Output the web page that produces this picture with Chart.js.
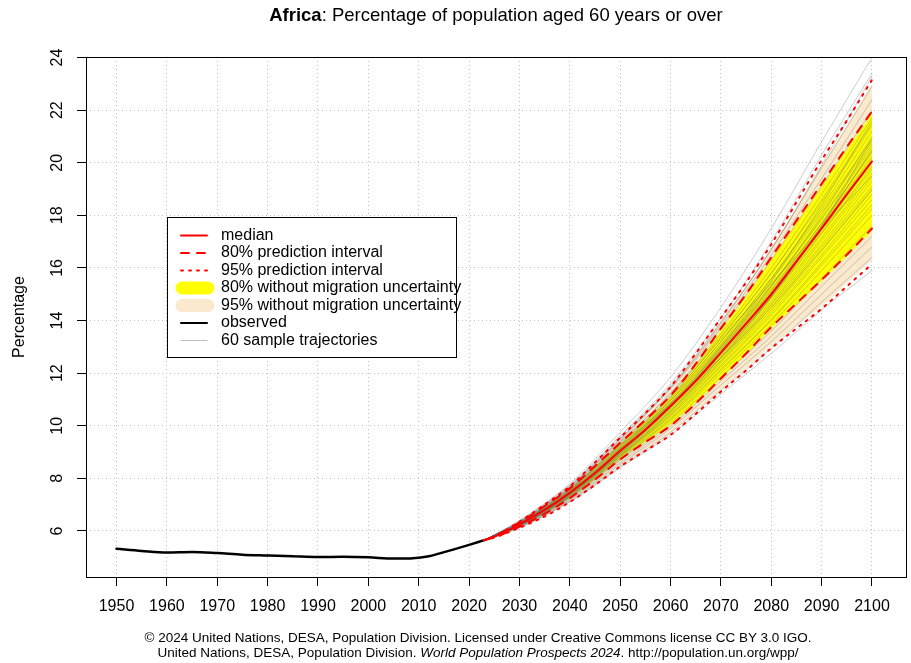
<!DOCTYPE html>
<html>
<head>
<meta charset="utf-8">
<title>Africa: Percentage of population aged 60 years or over</title>
<script src="https://cdn.jsdelivr.net/npm/chart.js@4.4.1/dist/chart.umd.min.js"></script>
<style>
  body { margin: 0; background: #fff; }
  #wrap { position: relative; width: 911px; height: 663px; font-family: 'Liberation Sans', Arial, sans-serif; color: #000; }
  #grafica { position: absolute; left: 0; top: 0; }
  .titulo { position: absolute; left: 0; width: 992px; top: 4px; text-align: center; font-size: 18.5px; line-height: 22px; white-space: nowrap; }
  .nota { position: absolute; left: 0; width: 956px; text-align: center; font-size: 13.5px; line-height: 15px; white-space: nowrap; }
</style>
</head>
<body>
<div id="wrap">
  <canvas id="grafica" width="911" height="663"></canvas>
  <div class="titulo"><b>Africa</b>: Percentage of population aged 60 years or over</div>
  <div class="nota" style="top:630px">© 2024 United Nations, DESA, Population Division. Licensed under Creative Commons license CC BY 3.0 IGO.</div>
  <div class="nota" style="top:645px">United Nations, DESA, Population Division. <i>World Population Prospects 2024</i>. http://population.un.org/wpp/</div>
</div>
<script>
// observed
const obsYears = [1950, 1955, 1960, 1965, 1970, 1975, 1980, 1985, 1990, 1995, 2000, 2005, 2008, 2010, 2012, 2014, 2017, 2020, 2023];
const obsValues = [5.32, 5.24, 5.18, 5.2, 5.16, 5.1, 5.07, 5.04, 5.01, 5.02, 5.0, 4.95, 4.95, 4.98, 5.04, 5.14, 5.3, 5.47, 5.65];

// projection
const projYears = [2023, 2025, 2030, 2035, 2040, 2045, 2050, 2055, 2060, 2065, 2070, 2075, 2080, 2085, 2090, 2095, 2100];
const median    = [5.65, 5.78, 6.25, 6.8, 7.45, 8.2, 9.05, 9.85, 10.75, 11.7, 12.78, 13.88, 15.0, 16.25, 17.5, 18.8, 20.05];
const pi80Upper = [5.65, 5.79, 6.32, 6.95, 7.62, 8.47, 9.35, 10.22, 11.15, 12.35, 13.7, 15.0, 16.4, 17.8, 19.2, 20.6, 21.95];
const pi80Lower = [5.65, 5.76, 6.17, 6.65, 7.25, 7.95, 8.72, 9.38, 10.0, 10.85, 11.8, 12.75, 13.75, 14.65, 15.55, 16.5, 17.5];
const pi95Upper = [5.65, 5.8, 6.35, 7.0, 7.7, 8.6, 9.55, 10.48, 11.48, 12.75, 14.1, 15.45, 16.9, 18.5, 20.1, 21.6, 23.15];
const pi95Lower = [5.65, 5.75, 6.12, 6.55, 7.1, 7.75, 8.45, 9.05, 9.65, 10.45, 11.3, 12.1, 12.95, 13.7, 14.45, 15.3, 16.15];
const noMig80Upper = [5.65, 5.78, 6.3, 6.92, 7.58, 8.42, 9.3, 10.18, 11.1, 12.28, 13.62, 14.9, 16.3, 17.7, 19.1, 20.5, 21.85];
const noMig80Lower = [5.65, 5.76, 6.18, 6.67, 7.27, 7.98, 8.75, 9.4, 10.05, 10.88, 11.8, 12.72, 13.7, 14.6, 15.5, 16.45, 17.4];
const noMig95Upper = [5.65, 5.79, 6.33, 6.97, 7.66, 8.55, 9.5, 10.42, 11.4, 12.65, 14.0, 15.3, 16.8, 18.3, 19.9, 21.4, 23.0];
const noMig95Lower = [5.65, 5.75, 6.13, 6.57, 7.13, 7.78, 8.5, 9.08, 9.72, 10.52, 11.36, 12.18, 13.03, 13.8, 14.55, 15.42, 16.3];

// sample trajectories
const trajYears = [2023, 2030, 2040, 2050, 2060, 2070, 2080, 2090, 2100];
const trajectories = [
  [5.65, 6.4, 7.8, 9.75, 11.85, 14.5, 17.5, 20.8, 24.0],
  [5.65, 6.35, 7.7, 9.6, 11.6, 14.1, 17.0, 20.3, 23.4],
  [5.65, 6.38, 7.75, 9.6, 11.45, 13.9, 16.7, 19.8, 22.9],
  [5.65, 6.33, 7.65, 9.45, 11.45, 13.8, 16.5, 19.4, 22.4],
  [5.65, 6.36, 7.7, 9.5, 11.4, 13.7, 16.3, 19.1, 22.0],
  [5.65, 6.3, 7.6, 9.35, 11.25, 13.5, 16.0, 18.8, 21.7],
  [5.65, 6.32, 7.62, 9.4, 11.2, 13.4, 15.8, 18.6, 21.5],
  [5.65, 6.29, 7.55, 9.3, 11.1, 13.35, 15.8, 18.5, 21.4],
  [5.65, 6.31, 7.58, 9.25, 11.05, 13.2, 15.6, 18.3, 21.2],
  [5.65, 6.28, 7.52, 9.22, 11.0, 13.2, 15.6, 18.2, 20.9],
  [5.65, 6.3, 7.55, 9.2, 10.95, 13.1, 15.5, 18.1, 20.8],
  [5.65, 6.27, 7.5, 9.15, 10.95, 13.05, 15.35, 17.9, 20.7],
  [5.65, 6.29, 7.5, 9.15, 10.88, 13.0, 15.3, 17.85, 20.6],
  [5.65, 6.26, 7.48, 9.1, 10.82, 12.95, 15.2, 17.7, 20.45],
  [5.65, 6.28, 7.47, 9.12, 10.85, 12.9, 15.15, 17.7, 20.4],
  [5.65, 6.25, 7.46, 9.07, 10.78, 12.85, 15.1, 17.6, 20.25],
  [5.65, 6.26, 7.44, 9.05, 10.75, 12.82, 15.05, 17.55, 20.15],
  [5.65, 6.24, 7.45, 9.05, 10.72, 12.78, 14.95, 17.45, 20.0],
  [5.65, 6.25, 7.43, 9.02, 10.7, 12.75, 14.9, 17.35, 19.85],
  [5.65, 6.23, 7.42, 9.0, 10.68, 12.7, 14.85, 17.3, 19.75],
  [5.65, 6.24, 7.4, 8.98, 10.65, 12.6, 14.75, 17.15, 19.6],
  [5.65, 6.22, 7.4, 8.95, 10.6, 12.58, 14.65, 17.05, 19.45],
  [5.65, 6.23, 7.38, 8.93, 10.55, 12.5, 14.6, 16.9, 19.3],
  [5.65, 6.21, 7.37, 8.9, 10.5, 12.45, 14.5, 16.8, 19.1],
  [5.65, 6.22, 7.35, 8.88, 10.45, 12.4, 14.4, 16.65, 18.95],
  [5.65, 6.2, 7.33, 8.85, 10.4, 12.3, 14.3, 16.5, 18.8],
  [5.65, 6.21, 7.32, 8.83, 10.38, 12.25, 14.2, 16.4, 18.6],
  [5.65, 6.19, 7.3, 8.8, 10.3, 12.15, 14.05, 16.2, 18.4],
  [5.65, 6.2, 7.28, 8.76, 10.25, 12.1, 14.0, 16.1, 18.25],
  [5.65, 6.18, 7.27, 8.73, 10.2, 12.0, 13.85, 15.9, 18.0],
  [5.65, 6.17, 7.24, 8.68, 10.1, 11.85, 13.6, 15.6, 17.6],
  [5.65, 6.16, 7.2, 8.6, 10.0, 11.7, 13.4, 15.3, 17.2],
  [5.65, 6.15, 7.17, 8.53, 9.9, 11.55, 13.2, 15.0, 16.8],
  [5.65, 6.13, 7.12, 8.45, 9.75, 11.35, 12.95, 14.7, 16.4],
  [5.65, 6.12, 7.1, 8.4, 9.65, 11.2, 12.75, 14.4, 15.9],
  [5.65, 6.3, 7.6, 9.25, 10.85, 12.7, 14.9, 17.6, 20.9],
  [5.65, 6.2, 7.35, 8.95, 10.75, 13.0, 15.5, 18.4, 21.6],
  [5.65, 6.27, 7.55, 9.3, 11.1, 13.3, 15.4, 17.5, 19.5],
  [5.65, 6.22, 7.38, 8.95, 10.7, 12.9, 15.3, 18.0, 21.0],
  [5.65, 6.29, 7.5, 9.15, 10.8, 12.6, 14.5, 16.7, 19.0],
  [5.65, 6.34, 7.68, 9.5, 11.5, 13.95, 16.7, 19.9, 23.3],
  [5.65, 6.19, 7.3, 8.85, 10.55, 12.6, 14.9, 17.6, 20.5]
];

// axes
const xTicks = [1950, 1960, 1970, 1980, 1990, 2000, 2010, 2020, 2030, 2040, 2050, 2060, 2070, 2080, 2090, 2100];
const yTicks = [6, 8, 10, 12, 14, 16, 18, 20, 22, 24];

const rojo = '#ff0000';
const amarillo = '#ffff00';
const beige = '#fae9cc';
const gris = 'rgba(105,105,105,0.42)';
const rejilla = '#c2c2c2';

Chart.defaults.font.family = "'Liberation Sans', Arial, sans-serif";
Chart.defaults.color = '#000';

function puntos(xs, ys) {
    return xs.map((x, i) => ({ x: x, y: ys[i] }));
}

function linea(datos, color, ancho, dash, orden) {
    return {
        data: datos,
        borderColor: color,
        borderWidth: ancho,
        borderDash: dash,
        borderCapStyle: 'round',
        borderJoinStyle: 'round',
        pointRadius: 0,
        fill: false,
        cubicInterpolationMode: 'monotone',
        order: orden
    };
}

function banda(datos, color, relleno, orden) {
    return {
        data: datos,
        borderColor: 'rgba(0,0,0,0)',
        borderWidth: 0,
        backgroundColor: color,
        pointRadius: 0,
        fill: relleno,
        cubicInterpolationMode: 'monotone',
        order: orden
    };
}

const datasets = [
    linea(puntos(projYears, median), rojo, 2, [], 0),
    linea(puntos(projYears, pi80Upper), rojo, 2, [8, 8], 1),
    linea(puntos(projYears, pi80Lower), rojo, 2, [8, 8], 1),
    linea(puntos(projYears, pi95Upper), rojo, 2, [2, 6], 1),
    linea(puntos(projYears, pi95Lower), rojo, 2, [2, 6], 1),
    linea(puntos(obsYears, obsValues), '#000', 2.5, [], 1),
    banda(puntos(projYears, noMig80Upper), amarillo, '+1', 3),
    banda(puntos(projYears, noMig80Lower), amarillo, false, 3),
    banda(puntos(projYears, noMig95Upper), beige, '+1', 4),
    banda(puntos(projYears, noMig95Lower), beige, false, 4)
];

trajectories.forEach(t => {
    datasets.push(linea(puntos(trajYears, t), gris, 0.8, [], 2));
});

const leyenda = [
    { texto: 'median', tipo: 'linea', color: rojo, ancho: 2, dash: [] },
    { texto: '80% prediction interval', tipo: 'linea', color: rojo, ancho: 2, dash: [8, 8] },
    { texto: '95% prediction interval', tipo: 'linea', color: rojo, ancho: 2, dash: [2, 6] },
    { texto: '80% without migration uncertainty', tipo: 'banda', color: amarillo },
    { texto: '95% without migration uncertainty', tipo: 'banda', color: beige },
    { texto: 'observed', tipo: 'linea', color: '#000', ancho: 2, dash: [] },
    { texto: '60 sample trajectories', tipo: 'linea', color: '#bdbdbd', ancho: 1, dash: [] }
];

const marco = {
    id: 'marco',
    afterDatasetsDraw(chart) {
        const a = chart.chartArea;
        const ctx = chart.ctx;
        ctx.save();
        ctx.strokeStyle = '#000';
        ctx.lineWidth = 1;
        ctx.strokeRect(Math.round(a.left) + 0.5, Math.round(a.top) + 0.5,
            Math.round(a.right - a.left) - 1, Math.round(a.bottom - a.top));
        ctx.restore();
    }
};

const cajaLeyenda = {
    id: 'cajaLeyenda',
    afterDraw(chart) {
        const ctx = chart.ctx;
        ctx.save();
        ctx.fillStyle = '#fff';
        ctx.fillRect(167, 217, 289, 141);
        ctx.strokeStyle = '#000';
        ctx.lineWidth = 1;
        ctx.strokeRect(167.5, 217.5, 289, 140);
        ctx.font = "16px 'Liberation Sans', Arial, sans-serif";
        ctx.textBaseline = 'middle';
        ctx.textAlign = 'left';
        leyenda.forEach((item, i) => {
            const y = 235.5 + i * 17.5;
            ctx.beginPath();
            ctx.lineCap = 'round';
            if (item.tipo === 'banda') {
                ctx.setLineDash([]);
                ctx.lineWidth = 13;
                ctx.strokeStyle = item.color;
                ctx.moveTo(182, y);
                ctx.lineTo(208, y);
            } else {
                ctx.setLineDash(item.dash);
                ctx.lineWidth = item.ancho;
                ctx.strokeStyle = item.color;
                ctx.moveTo(181, y);
                ctx.lineTo(207, y);
            }
            ctx.stroke();
            ctx.setLineDash([]);
            ctx.fillStyle = '#000';
            ctx.fillText(item.texto, 221, y);
        });
        ctx.restore();
    }
};

const ctx = document.getElementById('grafica');

new Chart(ctx, {
    type: 'line',
    data: { datasets: datasets },
    options: {
        responsive: false,
        animation: false,
        events: [],
        layout: { padding: { left: 0, top: 57, right: 4, bottom: 46 } },
        plugins: {
            legend: { display: false },
            tooltip: { enabled: false },
            filler: { propagate: false }
        },
        scales: {
            x: {
                type: 'linear',
                min: 1943.94,
                max: 2106.95,
                afterBuildTicks: s => { s.ticks = xTicks.map(v => ({ value: v })); },
                afterFit: s => { s.height = 40; },
                ticks: {
                    autoSkip: false,
                    maxRotation: 0,
                    padding: 11,
                    font: { size: 16 },
                    color: '#000',
                    callback: v => String(v)
                },
                grid: {
                    color: rejilla,
                    lineWidth: 1,
                    borderDash: [1, 3],
                    tickLength: 9,
                    tickColor: '#000',
                    tickWidth: 1,
                    tickBorderDash: []
                },
                border: { display: false, dash: [1, 3] }
            },
            y: {
                type: 'linear',
                min: 4.25,
                max: 24.02,
                afterBuildTicks: s => { s.ticks = yTicks.map(v => ({ value: v })); },
                afterFit: s => { s.width = 86; },
                ticks: {
                    autoSkip: false,
                    minRotation: 90,
                    maxRotation: 90,
                    crossAlign: 'center',
                    padding: 10.5,
                    font: { size: 16 },
                    color: '#000',
                    callback: v => String(v)
                },
                grid: {
                    color: rejilla,
                    lineWidth: 1,
                    borderDash: [1, 3],
                    tickLength: 9,
                    tickColor: '#000',
                    tickWidth: 1,
                    tickBorderDash: []
                },
                border: { display: false, dash: [1, 3] },
                title: {
                    display: true,
                    text: 'Percentage',
                    font: { size: 16 },
                    color: '#000',
                    padding: { top: 10, bottom: 0 }
                }
            }
        }
    },
    plugins: [marco, cajaLeyenda]
});
</script>
</body>
</html>
